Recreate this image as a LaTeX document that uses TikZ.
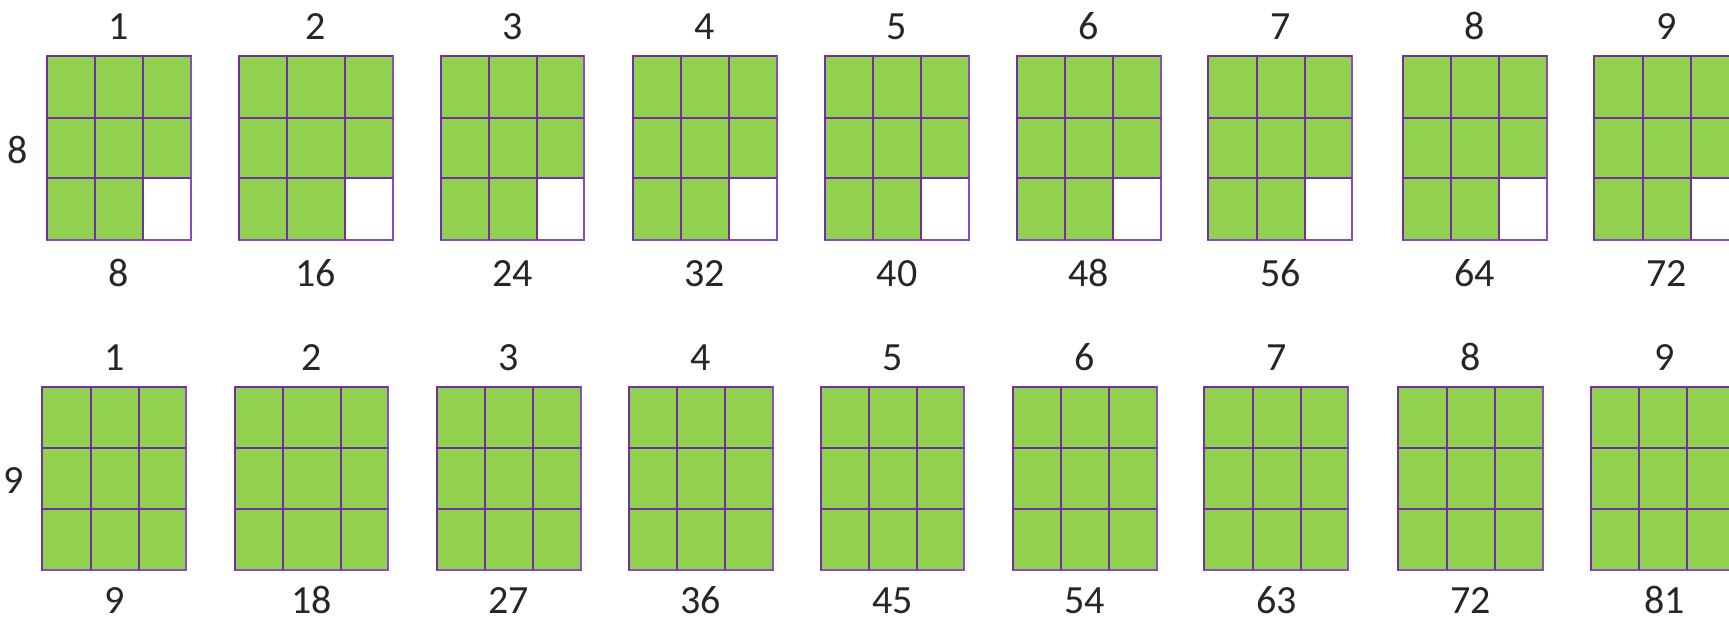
\documentclass[tikz,border=0pt]{standalone}
\usepackage{fontspec}
\setmainfont{Carlito}
\definecolor{cellgreen}{HTML}{92D050}
\definecolor{gridpurple}{HTML}{7030A0}
\definecolor{edgepurple}{HTML}{8A4CC0}
\definecolor{labelgray}{HTML}{262626}
\tikzset{
  gridline/.style={draw=gridpurple, line width=2pt},
  edgeline/.style={draw=edgepurple, line width=2pt},
  numlabel/.style={font=\fontsize{40}{48}\selectfont, text=labelgray, anchor=base, inner sep=0pt},
  cellfill/.style={fill=cellgreen},
  emptyfill/.style={fill=white}
}
\begin{document}
\begin{tikzpicture}[x=1pt,y=-1pt]
\useasboundingbox (0,0) rectangle (1729,619);
\clip (0,0) rectangle (1729,619);
% row for 8
\foreach \i/\a/\b/\c/\d/\t/\s in {
  1/46.7/95/143.3/190.7/1/8,
  2/238.7/286.7/345/392.7/2/16,
  3/440.7/489/537.3/584.3/3/24,
  4/632.7/681/729.3/776.7/4/32,
  5/825/873.3/921/969/5/40,
  6/1016.7/1065/1113.3/1161/6/48,
  7/1208.3/1257.3/1305/1352.3/7/56,
  8/1402.7/1450.7/1499/1546.7/8/64,
  9/1594.3/1642.7/1691/1739/9/72} {
  \fill[cellfill] (\a,56) rectangle (\d,240);
  \fill[emptyfill] (\c,178.3) rectangle (\d,240);
  \draw[edgeline] (\a,56) rectangle (\d,240);
  \draw[gridline] (\a,56) -- (\d,56) (\a,56) -- (\a,240)
    (\b,56) -- (\b,240) (\c,56) -- (\c,240)
    (\a,118.3) -- (\d,118.3) (\a,178.3) -- (\d,178.3);
  \node[numlabel] (ta\i) at ({(\a+\d)/2},39) {\t};
  \node[numlabel] (ba\i) at ({(\a+\d)/2},286) {\s};
}
% row for 9
\foreach \i/\a/\b/\c/\d/\t/\s in {
  1/42.3/90.7/139/186/1/9,
  2/235/282.7/340.7/388.3/2/18,
  3/436.7/485/533.3/580.7/3/27,
  4/629/677.3/725/772.7/4/36,
  5/820.7/869/916.7/964.3/5/45,
  6/1012.7/1061/1109.3/1156.7/6/54,
  7/1204.3/1252.7/1301/1348.3/7/63,
  8/1398.3/1446.7/1495/1542.7/8/72,
  9/1590.7/1639/1686.7/1738/9/81} {
  \fill[cellfill] (\a,386.7) rectangle (\d,570);
  \draw[edgeline] (\a,386.7) rectangle (\d,570);
  \draw[gridline] (\a,386.7) -- (\d,386.7) (\a,386.7) -- (\a,570)
    (\b,386.7) -- (\b,570) (\c,386.7) -- (\c,570)
    (\a,448.3) -- (\d,448.3) (\a,509) -- (\d,509);
  \node[numlabel] (tb\i) at ({(\a+\d)/2},370) {\t};
  \node[numlabel] (bb\i) at ({(\a+\d)/2},613.5) {\s};
}
\node[numlabel] (rowa) at (17.5,163) {8};
\node[numlabel] (rowb) at (14,493) {9};
\end{tikzpicture}
\end{document}
